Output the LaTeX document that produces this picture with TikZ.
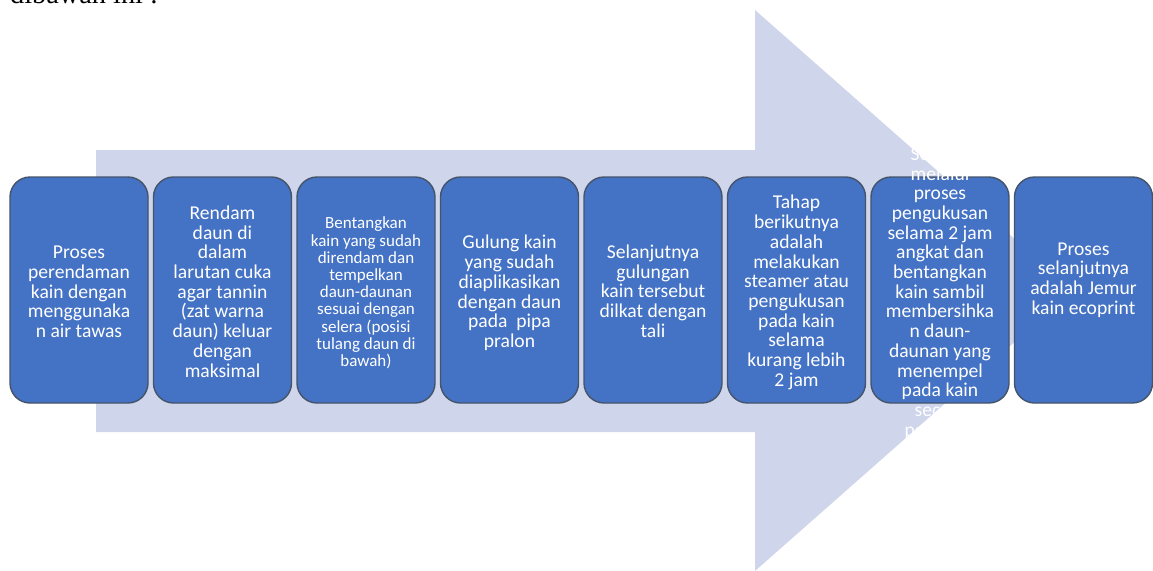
\documentclass[tikz,border=0pt]{standalone}
\usepackage{fontspec}
\setmainfont{Carlito}
\newfontfamily\serifdoc{Liberation Serif}
\definecolor{arrowbg}{HTML}{CFD5EA}
\definecolor{boxfill}{HTML}{4472C4}
\definecolor{boxline}{HTML}{44546A}
\tikzset{
  stepbox/.style={rounded corners=20pt, minimum width=138pt, minimum height=226pt,
    fill=boxfill, draw=boxline, line width=1.4pt, inner sep=2pt},
  boxtext/.style={text=white, align=center, inner sep=0pt,
    font=\fontsize{19.6}{19.7}\selectfont},
  smalltext/.style={text=white, align=center, inner sep=0pt,
    font=\fontsize{17}{17.2}\selectfont}
}
\begin{document}
\begin{tikzpicture}[x=1pt,y=-1pt]
\useasboundingbox (0,0) rectangle (1153,570);
\node[anchor=base west, inner sep=0pt, font=\serifdoc\fontsize{28.3}{30}\selectfont] (hdr) at (10,3.5) {dibawah ini :};
\fill[arrowbg] (96,150) -- (755,150) -- (755,10) -- (1073,290.5) -- (755,571) -- (755,432) -- (96,432) -- cycle;
\node[stepbox] (b1) at (79,290) {};
\node[stepbox] (b2) at (222.5,290) {};
\node[stepbox] (b3) at (366,290) {};
\node[stepbox] (b4) at (509.5,290) {};
\node[stepbox] (b5) at (653,290) {};
\node[stepbox] (b6) at (796.5,290) {};
\node[stepbox] (b7) at (940,290) {};
\node[stepbox] (b8) at (1083.5,290) {};
\node[boxtext] (t1) at ([yshift=-2pt]b1) {Proses\\perendaman\\kain dengan\\menggunaka\\n air tawas};
\node[boxtext] (t2) at ([yshift=-1.5pt]b2) {Rendam\\daun di\\dalam\\larutan cuka\\agar tannin\\(zat warna\\daun) keluar\\dengan\\maksimal};
\node[smalltext] (t3) at ([yshift=-3pt]b3) {Bentangkan\\kain yang sudah\\direndam dan\\tempelkan\\daun-daunan\\sesuai dengan\\selera (posisi\\tulang daun di\\bawah)};
\node[boxtext] (t4) at ([yshift=-3pt]b4) {Gulung kain\\yang sudah\\diaplikasikan\\dengan daun\\pada~ pipa\\pralon};
\node[boxtext] (t5) at ([yshift=-1pt]b5) {Selanjutnya\\gulungan\\kain tersebut\\dilkat dengan\\tali};
\node[boxtext] (t6) at ([yshift=-2.5pt]b6) {Tahap\\berikutnya\\adalah\\melakukan\\steamer atau\\pengukusan\\pada kain\\selama\\kurang lebih\\2 jam};
\node[boxtext] (t7) at ([yshift=-3pt]b7) {Setelah\\melalui\\proses\\pengukusan\\selama 2 jam\\angkat dan\\bentangkan\\kain sambil\\membersihka\\n daun-\\daunan yang\\menempel\\pada kain\\secara\\perlahan};
\node[boxtext] (t8) at ([yshift=10pt]b8) {Proses\\selanjutnya\\adalah Jemur\\kain ecoprint};
\end{tikzpicture}
\end{document}
